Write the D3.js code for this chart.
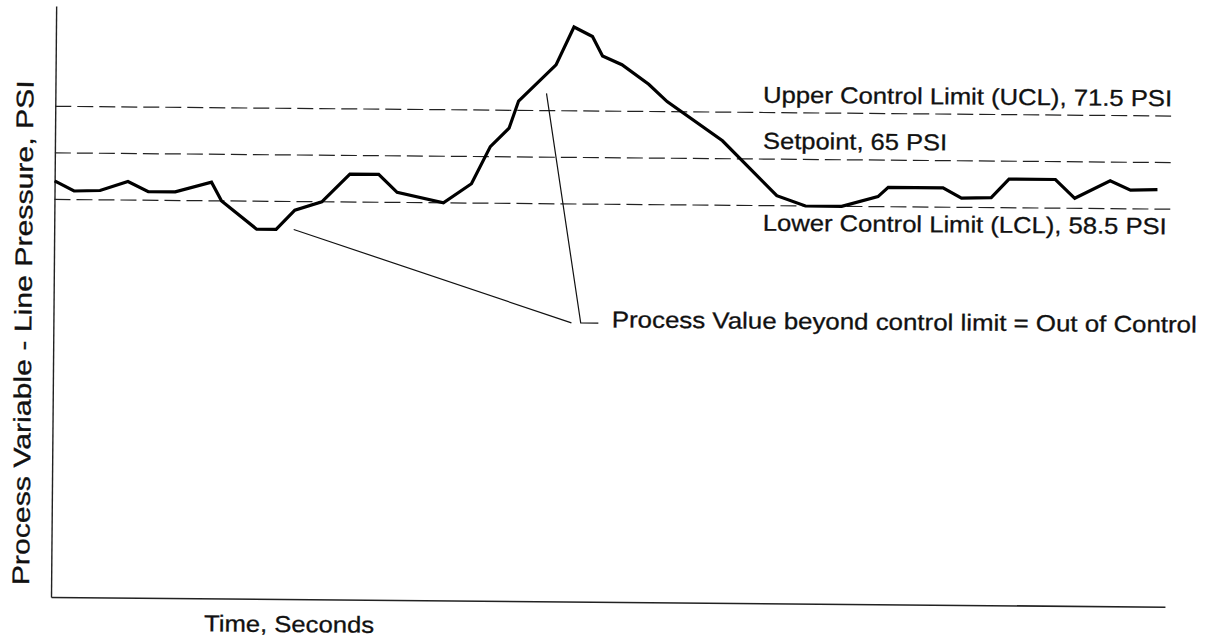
<!DOCTYPE html>
<html>
<head>
<meta charset="utf-8">
<script src="https://cdn.jsdelivr.net/npm/d3@7"></script>
<style>
  html, body { margin: 0; padding: 0; background: #fff; }
  svg { display: block; }
  text { font-family: "Liberation Sans", Arial, Helvetica, sans-serif; fill: #111; stroke: #111; stroke-width: 0.3; }
</style>
</head>
<body>
<svg id="chart" width="1207" height="640"></svg>
<script>
// ---- data (time in seconds, pressure in PSI) ----
const timeSec = [0, 2.1, 4.9, 7.9, 10.1, 13.0, 16.9, 18.0, 21.8, 23.9, 25.9, 28.8, 31.8, 34.9, 36.9, 41.9,
  44.9, 46.9, 48.9, 49.9, 53.9, 55.8, 57.8, 58.9, 61.0, 63.9, 65.9, 71.9, 77.8, 80.9, 84.8, 88.7, 89.8,
  95.7, 97.7, 100.9, 102.8, 107.8, 109.9, 113.7, 115.9, 118.8];
const pressurePSI = [61.1, 59.7, 59.8, 61.1, 59.7, 59.7, 61.1, 58.5, 54.6, 54.6, 57.3, 58.5, 62.4, 62.4, 59.9, 58.5,
  61.2, 66.4, 69.0, 72.8, 77.9, 83.2, 81.9, 79.2, 78.0, 75.3, 72.9, 67.5, 59.9, 58.5, 58.5, 59.9, 61.2,
  61.2, 59.8, 59.9, 62.5, 62.5, 59.9, 62.4, 61.1, 61.2];
const limitNames = ["Upper Control Limit (UCL), 71.5 PSI", "Setpoint, 65 PSI", "Lower Control Limit (LCL), 58.5 PSI"];
const limitValues = [71.5, 65, 58.5];
const xAxisTitle = "Time, Seconds";
const yAxisTitle = "Process Variable - Line Pressure, PSI";
const calloutText = "Process Value beyond control limit = Out of Control";
// callout leader lines in data units [time, PSI]
const leaderLow = [[25.8, 54.6], [55.8, 41.9]];
const leaderHigh = [[52.9, 73.9], [56.8, 41.9], [58.7, 41.9]];

// ---- layout ----
const x0 = 51, x1 = 1165, yBottom = 597, yTop = 6;
const x = d3.scaleLinear().domain([0, 120]).range([x0, x1]);
const y = d3.scaleLinear().domain([3, 85.5]).range([yBottom, yTop]);

const svg = d3.select("#chart");
// the source page is slightly skewed; rotate everything about the axis origin
const g = svg.append("g").attr("transform", `rotate(0.5, ${x0}, ${yBottom})`);

// axes (lines only)
g.append("g").attr("transform", `translate(0,${yBottom})`)
  .call(d3.axisBottom(x).tickValues([]).tickSizeOuter(0))
  .call(a => a.select(".domain").attr("stroke", "#222").attr("stroke-width", 1.6));
g.append("g").attr("transform", `translate(${x0},0)`)
  .call(d3.axisLeft(y).tickValues([]).tickSizeOuter(0))
  .call(a => a.select(".domain").attr("stroke", "#222").attr("stroke-width", 1.4));

// control limit / setpoint lines
g.selectAll("line.limit").data(limitValues).join("line")
  .attr("class", "limit")
  .attr("x1", x(0)).attr("x2", x(120.2))
  .attr("y1", d => y(d)).attr("y2", d => y(d))
  .attr("stroke", "#222").attr("stroke-width", 1.2)
  .attr("stroke-dasharray", "16,6");

// process variable line
const line = d3.line().x((d, i) => x(timeSec[i])).y(d => y(d));
g.append("path").datum(pressurePSI)
  .attr("d", line)
  .attr("fill", "none").attr("stroke", "#000")
  .attr("stroke-width", 3.2).attr("stroke-linejoin", "miter");

// callout leaders
const lead = d3.line().x(d => x(d[0])).y(d => y(d[1]));
[leaderLow, leaderHigh].forEach(pts => {
  g.append("path").attr("d", lead(pts))
    .attr("fill", "none").attr("stroke", "#111").attr("stroke-width", 1.2);
});

// labels
const labelPos = [[758.7, 96.5, 409], [759.1, 142.6, 184], [759.5, 224.5, 404]];
g.selectAll("text.limitLabel").data(limitNames).join("text")
  .attr("class", "limitLabel")
  .attr("x", (d, i) => labelPos[i][0]).attr("y", (d, i) => labelPos[i][1])
  .attr("font-size", 23)
  .attr("textLength", (d, i) => labelPos[i][2]).attr("lengthAdjust", "spacingAndGlyphs")
  .text(d => d);

g.append("text").attr("x", 609.4).attr("y", 322.5)
  .attr("font-size", 23).attr("textLength", 585).attr("lengthAdjust", "spacingAndGlyphs")
  .text(calloutText);

g.append("text").attr("x", 204.3).attr("y", 630)
  .attr("font-size", 23).attr("textLength", 170).attr("lengthAdjust", "spacingAndGlyphs")
  .text(xAxisTitle);

g.append("text")
  .attr("transform", "translate(29,333) rotate(-90)")
  .attr("text-anchor", "middle")
  .attr("font-size", 24).attr("textLength", 505).attr("lengthAdjust", "spacingAndGlyphs")
  .text(yAxisTitle);
</script>
</body>
</html>
